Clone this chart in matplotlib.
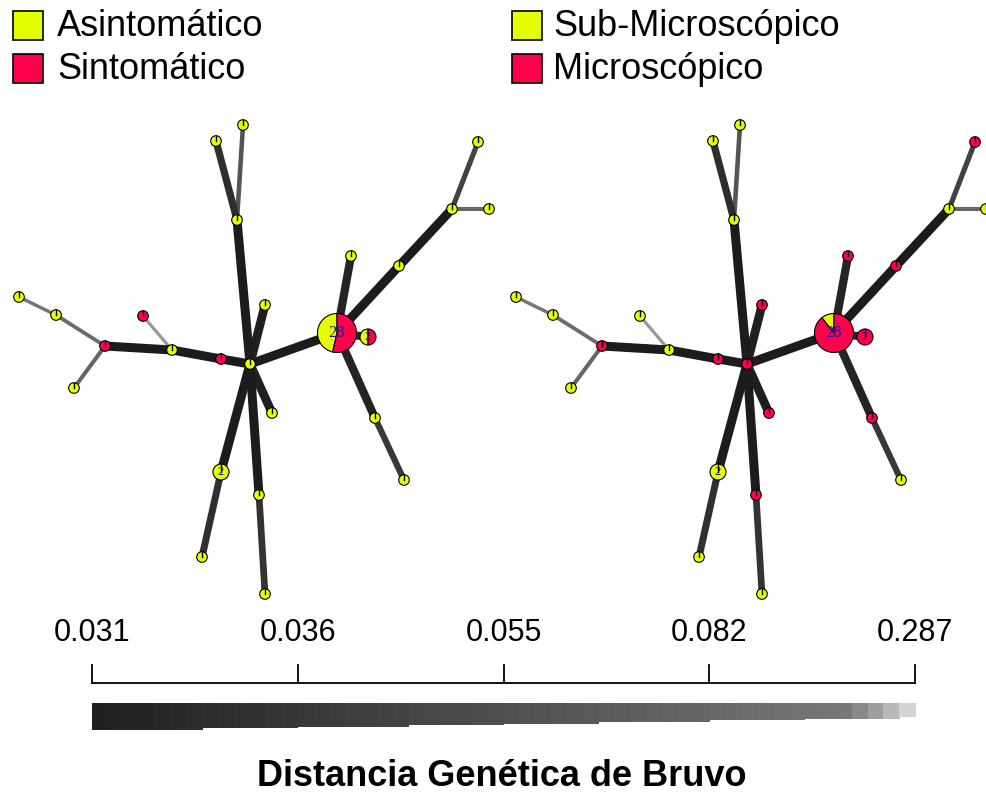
import numpy as np
import matplotlib
matplotlib.use('Agg')
import matplotlib.pyplot as plt
from matplotlib.patches import Circle, Wedge, Rectangle

plt.rcParams['font.family'] = ['Liberation Sans', 'DejaVu Sans']

# network layout (same for both panels)
node_x = [250, 337, 368, 351, 399, 452, 478, 489, 375, 404, 237, 216, 243,
          265, 272, 221, 202, 259, 265, 221, 172, 143, 105, 56, 19, 74]
node_y = [364, 333, 337, 256, 266, 209, 142, 209, 418, 480, 220, 141, 125,
          305, 413, 472, 557, 495, 594, 359, 350, 316, 346, 315, 297, 388]
node_count = [1, 28, 2, 1, 1, 1, 1, 1, 1, 1, 1, 1, 1,
              1, 1, 2, 1, 1, 1, 1, 1, 1, 1, 1, 1, 1]

# red counts per node: left = Sintomático, right = Microscópico
left_red = [0, 15, 1, 0, 0, 0, 0, 0, 0, 0, 0, 0, 0,
            0, 0, 0, 0, 0, 0, 1, 0, 1, 1, 0, 0, 0]
right_red = [1, 25, 2, 1, 1, 0, 1, 0, 1, 0, 0, 0, 0,
             1, 1, 0, 0, 1, 0, 1, 0, 0, 1, 0, 0, 0]

edges = [(0, 1), (1, 2), (1, 3), (1, 4), (4, 5), (5, 6), (5, 7), (1, 8), (8, 9),
         (0, 10), (10, 11), (10, 12), (0, 13), (0, 14), (0, 15), (15, 16),
         (0, 17), (17, 18), (0, 19), (19, 20), (20, 22), (20, 21),
         (22, 23), (23, 24), (22, 25)]
edge_dist = [0.031, 0.033, 0.0325, 0.031, 0.031, 0.046, 0.080, 0.0325, 0.038,
             0.031, 0.0345, 0.0615, 0.0315, 0.0315, 0.031, 0.035,
             0.031, 0.0355, 0.031, 0.031, 0.031, 0.25,
             0.12, 0.20, 0.080]

tick_vals = [0.031, 0.036, 0.055, 0.082, 0.287]
legend_left = ['Asintomático', 'Sintomático']
legend_right = ['Sub-Microscópico', 'Microscópico']
title = 'Distancia Genética de Bruvo'

YELLOW = '#E5FF00'
RED = '#FF004D'

W, H = 987, 797
fig = plt.figure(figsize=(W / 100, H / 100), dpi=100)


def scale_pos(d):
    return np.interp(d, tick_vals, np.linspace(0, 1, len(tick_vals)))


def edge_gray(p):
    return np.interp(p, [0, 0.92, 0.94, 0.96, 0.98, 1.0],
                     [0.11, 0.47, 0.53, 0.62, 0.73, 0.83])


def edge_width(p):
    return np.interp(p, [0, 0.2, 0.4, 0.75, 1.0], [9, 7, 5, 4, 3])


def px_axes(x0, y0, x1, y1):
    ax = fig.add_axes([x0 / W, 1 - y1 / H, (x1 - x0) / W, (y1 - y0) / H])
    ax.set_xlim(0, x1 - x0)
    ax.set_ylim(y1, y0)
    ax.axis('off')
    return ax


def draw_net(ax, red):
    order = np.argsort(edge_dist)[::-1]
    for k in order:
        a, b = edges[k]
        p = scale_pos(edge_dist[k])
        ax.plot([node_x[a], node_x[b]], [node_y[a], node_y[b]],
                color=str(edge_gray(p)), lw=edge_width(p) * 0.72,
                solid_capstyle='butt', zorder=1)
    for i in range(len(node_x)):
        cx, cy, n = node_x[i], node_y[i], node_count[i]
        r = np.interp(n, [1, 2, 28], [5.3, 8, 19.5])
        f = (n - red[i]) / n
        if f == 1 or f == 0:
            ax.add_patch(Circle((cx, cy), r, facecolor=YELLOW if f == 1 else RED,
                                edgecolor='black', lw=0.8, zorder=3))
            ax.plot([cx, cx], [cy, cy - r], color='black', lw=1.0, zorder=4)
        else:
            ax.add_patch(Wedge((cx, cy), r, 270 - 360 * f, 270, facecolor=YELLOW,
                               edgecolor='black', lw=0.8, zorder=3))
            ax.add_patch(Wedge((cx, cy), r, 270, 270 + 360 * (1 - f), facecolor=RED,
                               edgecolor='black', lw=0.8, zorder=3))
        if n > 1:
            ax.text(cx, cy, str(n), ha='center', va='center', fontsize=12 if n > 9 else 9,
                    family='Liberation Serif', color='#1a1a9a', zorder=5)


ax_l = px_axes(0, 100, 497, 615)
draw_net(ax_l, left_red)
ax_r = px_axes(497, 100, 987, 615)
ax_r.set_xlim(0, 490)
draw_net(ax_r, right_red)

# overlay for legend, scale and title
ov = px_axes(0, 0, W, H)
for j, (lab_l, lab_r) in enumerate(zip(legend_left, legend_right)):
    col = [YELLOW, RED][j]
    yc = 25 + 43 * j
    ov.add_patch(Rectangle((13, yc - 14.5), 30, 29, facecolor=col, edgecolor='black', lw=1.2))
    ov.text(57, yc + 1, lab_l, fontsize=26, ha='left', va='center')
    ov.add_patch(Rectangle((512, yc - 14.5), 30, 29, facecolor=col, edgecolor='black', lw=1.2))
    ov.text(553, yc + 1, lab_r, fontsize=26, ha='left', va='center')

# distance scale
x0, x1 = 92, 915
tick_x = x0 + np.linspace(0, 1, len(tick_vals)) * (x1 - x0)
ov.plot([x0, x1], [683, 683], color='black', lw=1.3, solid_capstyle='projecting')
for tx, tv in zip(tick_x, tick_vals):
    ov.plot([tx, tx], [665, 683], color='black', lw=1.3)
    ov.text(tx, 633, f'{tv:.3f}', fontsize=22, ha='center', va='center')

n_seg = 52
seg_w = (x1 - x0) / n_seg
seg_gray = list(np.linspace(0.125, 0.467, n_seg - 4)) + [0.533, 0.62, 0.725, 0.83]
for s in range(n_seg):
    p = s / (n_seg - 1)
    bottom = 730 - 13 * np.floor(p * 8) / 8
    ov.add_patch(Rectangle((x0 + s * seg_w, 703), seg_w + 0.6, bottom - 703,
                           facecolor=str(seg_gray[s]), edgecolor='none'))

ov.text(502, 776, title, fontsize=26, fontweight='bold', ha='center', va='center')

fig.savefig('out.png', dpi=100)
